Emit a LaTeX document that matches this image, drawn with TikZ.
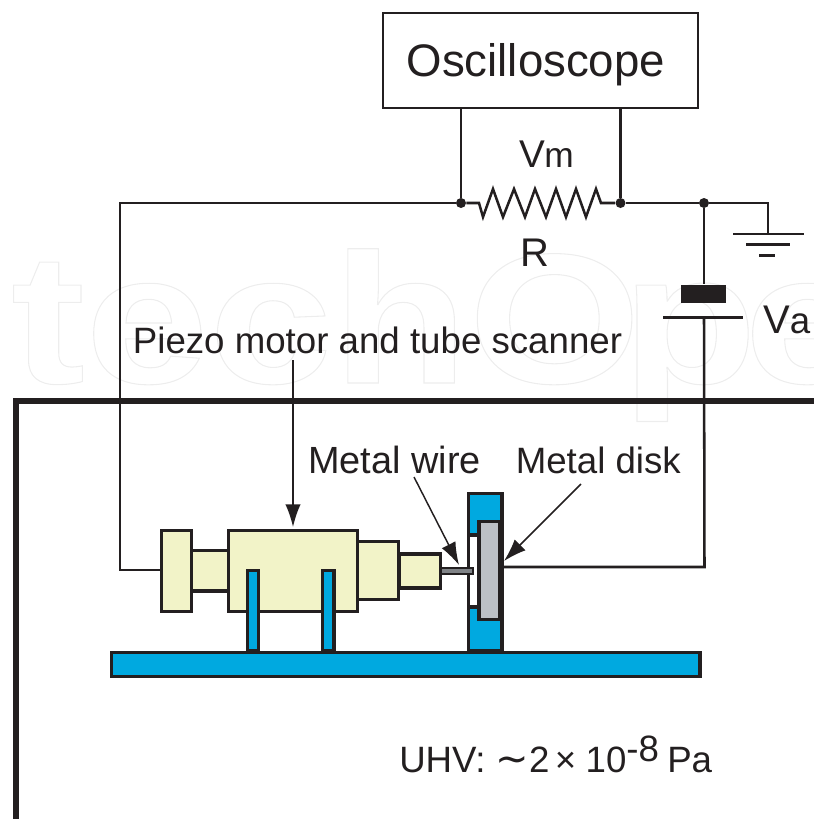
\documentclass[tikz,border=0pt]{standalone}
\usepackage{fontspec}
\setmainfont{Liberation Sans}
\newfontfamily\symf{DejaVu Sans}
\newfontfamily\wmf[FakeStretch=1.2]{Liberation Sans Bold}
\usetikzlibrary{arrows.meta}
\definecolor{ink}{HTML}{231F20}
\definecolor{cyanb}{HTML}{00A9E0}
\definecolor{creamb}{HTML}{F2F3C8}
\definecolor{diskg}{HTML}{BDC0C6}
\definecolor{wireg}{HTML}{808387}
\tikzset{
 x=0.75pt,y=-0.75pt,
 wire/.style={draw=ink,line width=1.9pt,line join=miter},
 part/.style={draw=ink,line width=2.3pt,line join=miter},
 cream/.style={part,fill=creamb,inner sep=0pt},
 blue/.style={part,fill=cyanb,inner sep=0pt},
 dotn/.style={circle,fill=ink,inner sep=0pt,minimum size=7.5pt},
 lab/.style={inner sep=0pt,text=ink,font=\fontsize{27.5pt}{30pt}\selectfont,anchor=base},
 ptr/.style={draw=ink,line width=1.1pt,-{Latex[length=17pt,width=11.5pt]}},
}
\newcommand{\bigsz}{\fontsize{30pt}{32pt}\selectfont}
\begin{document}
\begin{tikzpicture}
\useasboundingbox (0,0) rectangle (814,819);
% watermark
\node[inner sep=0pt,anchor=base west] (wm) at (-187,383) {\wmf\fontsize{139pt}{139pt}\selectfont\special{pdf:code 1 Tr 0.8 w 0.93 0.93 0.93 RG}IntechO\kern-15pt p\kern-10pt en\special{pdf:code 0 Tr 0 0 0 RG}};
% chamber
\coordinate (chA) at (814,400.8); \coordinate (chB) at (16.1,400.8); \coordinate (chC) at (16.1,819);
\draw[draw=ink,line width=4.7pt] (chA) -- (chB) -- (chC);
% oscilloscope
\node[draw=ink,line width=1.7pt,minimum width=236.5pt,minimum height=71.5pt,inner sep=0pt,text height=23.25pt,text depth=0pt,font=\fontsize{34.2pt}{36pt}\selectfont,text=ink] (osc) at (540.5,60.5) {Oscilloscope\hspace*{7pt}};
% junctions
\node[dotn] (j1) at (461,203) {};
\node[dotn] (j2) at (620.5,203) {};
\node[dotn] (j3) at (704,203) {};
\coordinate (o1) at (461,109); \coordinate (o2) at (620.5,109);
\draw[wire] (o1) -- (j1);
\draw[wire] (o2) -- (j2);
% resistor
\draw[wire] (j1) -- (479,203) -- (483,217) -- (493,189) -- (503,217) -- (514,189) -- (525,217) -- (535,189) -- (546,217) -- (556,189) -- (566,217) -- (576,189) -- (586,217) -- (596,189) -- (601,203) -- (j2);
\draw[wire] (j2) -- (j3);
% ground
\coordinate (g0) at (768,234);
\coordinate (g1a) at (733,234); \coordinate (g1b) at (804,234);
\coordinate (g2a) at (746,244.5); \coordinate (g2b) at (790,244.5);
\coordinate (g3a) at (759,255.5); \coordinate (g3b) at (775,255.5);
\draw[wire] (j3) -| (g0);
\draw[wire] (g1a) -- (g1b);
\draw[wire] (g2a) -- (g2b);
\draw[wire] (g3a) -- (g3b);
% battery
\node[fill=ink,minimum width=34pt,minimum height=14pt,inner sep=0pt] (batp) at (703.3,294) {};
\coordinate (pla) at (663,317.7); \coordinate (plb) at (743,317.7); \coordinate (plc) at (704,317.7);
\draw[wire] (pla) -- (plb);
\draw[wire] (j3) -- (batp.north -| j3);
% parts
\node[blue,minimum width=441.4pt,minimum height=18pt] (base) at (405.75,664.5) {};
\node[cream,minimum width=22.5pt,minimum height=60.75pt] (blA) at (176.5,571) {};
\node[cream,minimum width=27.75pt,minimum height=30.4pt] (blB) at (210,570.75) {};
\node[cream,minimum width=96.4pt,minimum height=60.75pt] (blC) at (293.2,571) {};
\node[cream,minimum width=30.75pt,minimum height=43.5pt] (blD) at (378,570.5) {};
\node[cream,minimum width=30.75pt,minimum height=25.5pt] (blE) at (420,571) {};
\node[blue,minimum width=8.5pt,minimum height=60.7pt] (legA) at (253,610.5) {};
\node[blue,minimum width=8.5pt,minimum height=60.2pt] (legB) at (328.3,610.2) {};
% holder
\fill[white] (468.2,535) rectangle (479,607);
\fill[cyanb] (468.2,493.5) rectangle (502,535) (468.2,607) rectangle (502,651);
\draw[part] (479,535) -- (468.2,535) -- (468.2,493.5) -- (502,493.5) -- (502,651) -- (468.2,651) -- (468.2,535) (468.2,607) -- (479,607);
\node[part,fill=diskg,minimum width=15.75pt,minimum height=73.5pt,inner sep=0pt] (disk) at (489.5,570.5) {};
\node[draw=ink,line width=1.5pt,fill=wireg,minimum width=23.5pt,minimum height=4.6pt,inner sep=0pt] (mw) at (457,570.8) {};
% connecting wires
\coordinate (lt) at (120,203); \coordinate (lb) at (120,570);
\draw[wire] (j1) -- (lt) -- (lb) -- (blA.west |- lb);
\coordinate (rb) at (704.5,567); \coordinate (re) at (500,567);
\draw[wire] (plc) -- (rb) -- (re);
% labels
\node[lab] (vm) at (546.5,167.5) {{\fontsize{29pt}{32pt}\selectfont V}\kern-0.6pt{\fontsize{26.5pt}{30pt}\selectfont m}};
\node[lab,font=\bigsz] (r) at (534.5,266) {R};
\node[lab,anchor=base west] (va) at (763,333) {{\bigsz V}a};
\node[lab] (pz) at (377.5,353.5) {Piezo motor and tube scanner};
\node[lab,font=\fontsize{28.4pt}{30pt}\selectfont] (mwl) at (394.5,473) {Metal wire};
\node[lab] (mdl) at (598.3,473) {Metal disk};
\node[lab,anchor=base west] (uhv) at (399,772.5) {UHV: {\symf\fontsize{30pt}{32pt}\selectfont\char"223C}2\hspace{4pt}×\hspace{7pt}10\raisebox{8.25pt}{-8}\hspace{-1.5pt} Pa};
% pointers
\coordinate (pa) at (293,360); \coordinate (pb) at (293,527);
\coordinate (wa) at (414,477); \coordinate (wb) at (459,565);
\coordinate (da) at (581,484); \coordinate (db) at (504,561);
\draw[ptr] (pa) -- (pb);
\draw[ptr] (wa) -- (wb);
\draw[ptr] (da) -- (db);
\end{tikzpicture}
\end{document}
